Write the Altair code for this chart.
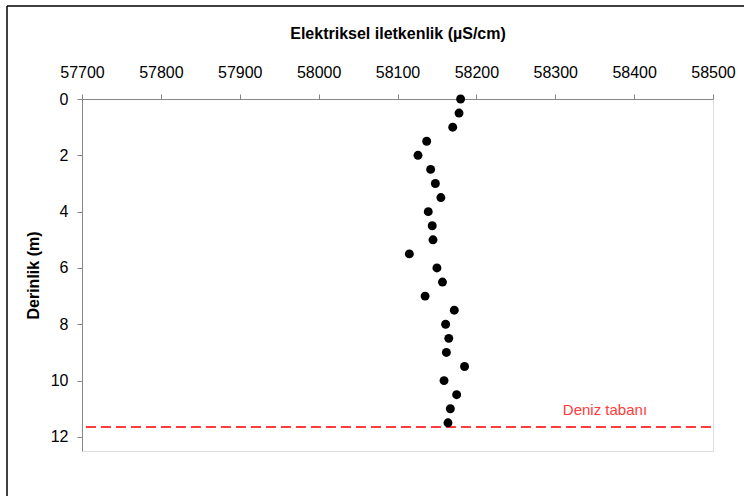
import altair as alt
import pandas as pd

# Data
depth = [0.0, 0.5, 1.0, 1.5, 2.0, 2.5, 3.0, 3.5, 4.0, 4.5, 5.0, 5.5,
         6.0, 6.5, 7.0, 7.5, 8.0, 8.5, 9.0, 9.5, 10.0, 10.5, 11.0, 11.5]
conductivity = [58180, 58178, 58170, 58137, 58126, 58142, 58148, 58155,
                58139, 58144, 58145, 58115, 58150, 58157, 58135, 58172,
                58161, 58165, 58162, 58185, 58159, 58175, 58167, 58164]

seabed_depth = [11.65, 11.65]
seabed_x = [57705, 58500]
seabed_label = ["Deniz tabanı"]
seabed_label_x = [58363]
seabed_label_y = [11.04]

x_ticks = list(range(57700, 58501, 50))
y_ticks = list(range(0, 13))

FONT = "Liberation Sans"
AXIS_GRAY = "#868686"

df = pd.DataFrame({"EC": conductivity, "Depth": depth})
line_df = pd.DataFrame({"EC": seabed_x, "Depth": seabed_depth})
label_df = pd.DataFrame({"EC": seabed_label_x, "Depth": seabed_label_y, "text": seabed_label})

x_scale = alt.Scale(domain=[57700, 58500], nice=False, zero=False)
y_scale = alt.Scale(domain=[0, 12.5], nice=False, zero=False, reverse=True)

x_axis = alt.Axis(
    orient="top", values=x_ticks,
    labelExpr="datum.value % 100 == 0 ? datum.value : ''",
    title="Elektriksel iletkenlik (µS/cm)", grid=False,
    tickSize=5, labelPadding=14, titlePadding=23,
    domainColor=AXIS_GRAY, tickColor=AXIS_GRAY,
    labelFont=FONT, labelFontSize=16, labelColor="#000000",
    titleFont=FONT, titleFontSize=16, titleFontWeight="bold", titleColor="#000000",
    format="d", labelFlush=False, labelOverlap=False,
)
y_axis = alt.Axis(
    orient="left", values=y_ticks,
    labelExpr="datum.value % 2 == 0 ? datum.value : ''",
    title="Derinlik (m)", grid=False,
    tickSize=5, labelPadding=9, titlePadding=9,
    domainColor=AXIS_GRAY, tickColor=AXIS_GRAY,
    labelFont=FONT, labelFontSize=16, labelColor="#000000",
    titleFont=FONT, titleFontSize=16, titleFontWeight="bold", titleColor="#000000",
    labelFlush=False, labelOverlap=False,
)

points = alt.Chart(df).mark_circle(size=80, color="#000000", opacity=1).encode(
    x=alt.X("EC:Q", scale=x_scale, axis=x_axis),
    y=alt.Y("Depth:Q", scale=y_scale, axis=y_axis),
)

seabed = alt.Chart(line_df).mark_line(
    color="#ff3b3b", strokeWidth=2, strokeDash=[10, 5]
).encode(
    x=alt.X("EC:Q", scale=x_scale),
    y=alt.Y("Depth:Q", scale=y_scale),
)

label = alt.Chart(label_df).mark_text(
    color="#ff3b3b", font=FONT, fontSize=15, align="center", baseline="middle"
).encode(
    x=alt.X("EC:Q", scale=x_scale),
    y=alt.Y("Depth:Q", scale=y_scale),
    text="text:N",
)

# outer frame (top and left edges visible in the reference)
frame_top = alt.Chart(pd.DataFrame({"a": [0]})).mark_rule(
    color="#000000", strokeWidth=1.5
).encode(x=alt.value(-75), x2=alt.value(662), y=alt.value(-93))
frame_left = alt.Chart(pd.DataFrame({"a": [0]})).mark_rule(
    color="#000000", strokeWidth=1.5
).encode(x=alt.value(-75), y=alt.value(-93), y2=alt.value(397))

chart = alt.layer(frame_top, frame_left, seabed, points, label).properties(
    width=631, height=352,
    autosize=alt.AutoSizeParams(type="none"),
    padding={"left": 82, "top": 99, "right": 31, "bottom": 45},
).configure_view(stroke=None).configure(background="#ffffff")

chart.save("out.html", embed_options={"renderer": "svg", "actions": False})
